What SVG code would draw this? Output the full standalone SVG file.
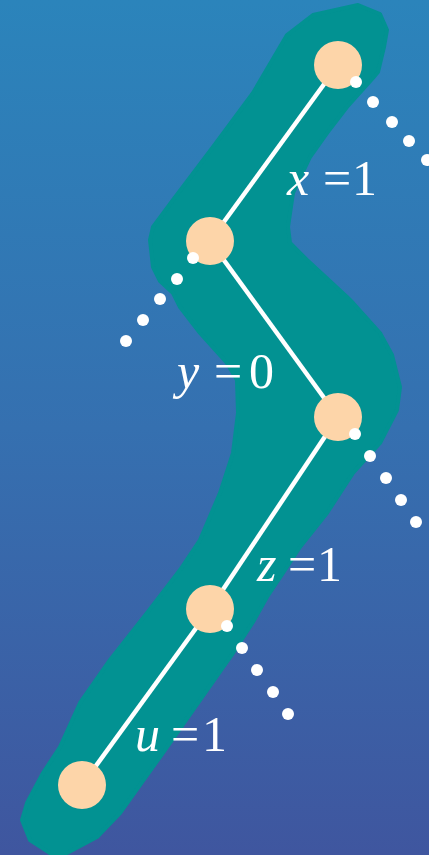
<svg xmlns="http://www.w3.org/2000/svg" width="429" height="855" viewBox="0 0 429 855">
<defs>
<linearGradient id="bg" x1="0" y1="0" x2="0" y2="1">
<stop offset="0" stop-color="#2b84bb"/>
<stop offset="0.5" stop-color="#3570b0"/>
<stop offset="1" stop-color="#3f569f"/>
</linearGradient>
</defs>
<style>
.edge{stroke:#fff;stroke-width:4.5;fill:none}
.node{fill:#fdd5a9}
.dot{fill:#fff}
.lbl{font-family:"Liberation Serif","Times New Roman",serif;font-size:50px;fill:#fff}
.v{font-style:italic}
</style>
<rect width="429" height="855" fill="url(#bg)"/>
<path id="blob" fill="#029292" stroke="#029292" stroke-width="4" stroke-linejoin="round" d="M313,15 L358,5 L380,14 L387,30 L384,47 L378,72 L373,78 L347,107 L327,133 L310,157 L293,193 L288,227 L290,243 L307,260 L347,297 L353,303 L380,333 L392,355 L400,387 L397,410 L380,443 L353,473 L327,513 L300,547 L283,573 L267,597 L253,622 L233,653 L200,700 L160,757 L120,813 L97,837 L67,853 L50,853 L30,840 L22,820 L27,803 L43,773 L60,747 L80,703 L110,660 L147,613 L180,570 L200,540 L220,493 L233,453 L238,413 L237,380 L227,363 L200,333 L180,307 L173,293 L160,281 L153,267 L150,240 L153,227 L173,200 L213,147 L253,93 L287,35 Z"/>
<g id="connectors">
<line class="edge" x1="338" y1="65" x2="210" y2="241"/>
<line class="edge" x1="210" y1="241" x2="338" y2="417"/>
<line class="edge" x1="338" y1="417" x2="210" y2="609"/>
<line class="edge" x1="210" y1="609" x2="82" y2="785"/>
</g>
<g id="nA"><circle class="node" cx="338" cy="65" r="24"/></g>
<g id="nB"><circle class="node" cx="210" cy="241" r="24"/></g>
<g id="nC"><circle class="node" cx="338" cy="417" r="24"/></g>
<g id="nD"><circle class="node" cx="210" cy="609" r="24"/></g>
<g id="nE"><circle class="node" cx="82" cy="785" r="24"/></g>
<g id="dots">
<circle class="dot" cx="356" cy="82" r="6"/><circle class="dot" cx="373" cy="102" r="6"/><circle class="dot" cx="392" cy="122" r="6"/><circle class="dot" cx="409" cy="141" r="6"/><circle class="dot" cx="427" cy="160" r="6"/>
<circle class="dot" cx="193" cy="258" r="6"/><circle class="dot" cx="177" cy="279" r="6"/><circle class="dot" cx="160" cy="299" r="6"/><circle class="dot" cx="143" cy="320" r="6"/><circle class="dot" cx="126" cy="341" r="6"/>
<circle class="dot" cx="355" cy="434" r="6"/><circle class="dot" cx="370" cy="456" r="6"/><circle class="dot" cx="386" cy="478" r="6"/><circle class="dot" cx="401" cy="500" r="6"/><circle class="dot" cx="416" cy="522" r="6"/>
<circle class="dot" cx="227" cy="626" r="6"/><circle class="dot" cx="242" cy="648" r="6"/><circle class="dot" cx="257" cy="670" r="6"/><circle class="dot" cx="273" cy="692" r="6"/><circle class="dot" cx="288" cy="714" r="6"/>
</g>
<g id="labels">
<text class="lbl" y="195"><tspan class="v" x="287">x</tspan><tspan x="323">=</tspan><tspan x="352">1</tspan></text>
<text class="lbl" y="388"><tspan class="v" x="177">y</tspan><tspan x="214">=</tspan><tspan x="249">0</tspan></text>
<text class="lbl" y="581"><tspan class="v" x="257">z</tspan><tspan x="288">=</tspan><tspan x="317">1</tspan></text>
<text class="lbl" y="751"><tspan class="v" x="135">u</tspan><tspan x="171">=</tspan><tspan x="202">1</tspan></text>
</g>
</svg>
